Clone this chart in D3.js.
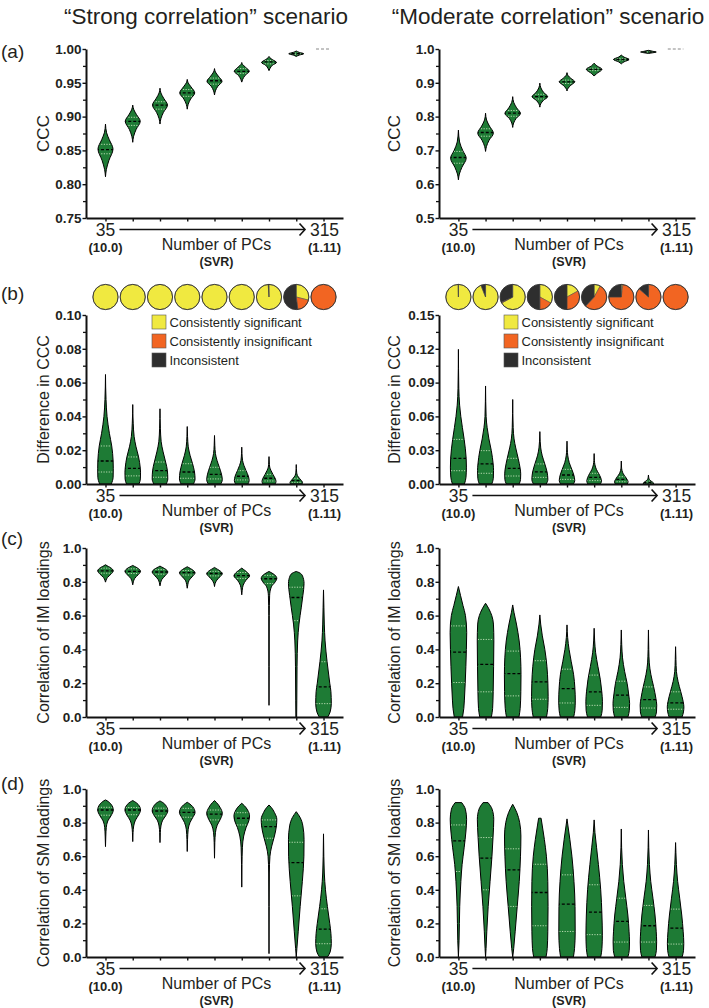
<!DOCTYPE html>
<html><head><meta charset="utf-8">
<script src="https://cdn.jsdelivr.net/npm/d3@7"></script>
<style>
body{margin:0;background:#fff}
svg{display:block}
text{font-family:Arial,"Liberation Sans",Helvetica,sans-serif;fill:#231f20}
</style>
</head><body>
<svg id="chart" width="709" height="1008"></svg>
<script>
// ---------------- DATA ----------------
const categories = ["35","70","105","140","175","210","245","280","315"]; // number of PCs
const xEndLabels = ["35","315"];
const svrLabels = ["(10.0)","(1.11)"];
const xTitle = "Number of PCs";
const xSubTitle = "(SVR)";
const columnTitles = ["\u201CStrong correlation\u201D scenario","\u201CModerate correlation\u201D scenario"];
const panelLetters = ["(a)","(b)","(c)","(d)"];
const yTitles = ["CCC","Difference in CCC","Correlation of IM loadings","Correlation of SM loadings"];
const legendLabels = ["Consistently significant","Consistently insignificant","Inconsistent"];

// y tick values
const yTicksCccStrong = [0.75,0.80,0.85,0.90,0.95,1.00];
const yMinorCccStrong = [0.775,0.825,0.875,0.925,0.975];
const yTicksCccMod = [0.5,0.6,0.7,0.8,0.9,1.0];
const yMinorCccMod = [0.55,0.65,0.75,0.85,0.95];
const yTicksDiffStrong = [0,0.02,0.04,0.06,0.08,0.10];
const yMinorDiffStrong = [0.01,0.03,0.05,0.07,0.09];
const yTicksDiffMod = [0,0.03,0.06,0.09,0.12,0.15];
const yMinorDiffMod = [0.015,0.045,0.075,0.105,0.135];
const yTicksCorr = [0,0.2,0.4,0.6,0.8,1.0];
const yMinorCorr = [0.1,0.3,0.5,0.7,0.9];

// pie proportions (significance consistency)
const sigStrong   = [1,1,1,1,1,1,0.99,0.29,0];
const insigStrong = [0,0,0,0,0,0,0,0.19,1];
const inconStrong = [0,0,0,0,0,0,0.01,0.52,0];
const sigMod   = [0.997,0.94,0.67,0.33,0.17,0.08,0.02,0.005,0];
const insigMod = [0,0,0.01,0.17,0.33,0.54,0.73,0.86,1];
const inconMod = [0.003,0.06,0.32,0.50,0.50,0.38,0.25,0.135,0];

// violin quartiles [q1, median, q3]
const cccStrongQ = [[0.845,0.851,0.859],[0.887,0.893,0.899],[0.911,0.917,0.922],[0.930,0.935,0.940],[0.948,0.953,0.957],[0.964,0.967,0.971],[0.978,0.981,0.983],[0.992,0.993,0.994],[1,1,1]];
const cccModQ = [[0.662,0.679,0.697],[0.742,0.753,0.764],[0.801,0.810,0.818],[0.852,0.859,0.866],[0.898,0.903,0.908],[0.936,0.940,0.943],[0.967,0.969,0.972],[0.990,0.991,0.992],[1,1,1]];
const diffStrongQ = [[0.0071,0.0136,0.0225],[0.0048,0.0093,0.016],[0.004,0.0079,0.013],[0.0034,0.0071,0.012],[0.003,0.0057,0.0099],[0.0024,0.0046,0.0079],[0.0018,0.0034,0.0057],[0.001,0.002,0.0034],null];
const diffModQ = [[0.0118,0.0228,0.0396],[0.0095,0.0178,0.0296],[0.0071,0.0139,0.0228],[0.0059,0.0107,0.0178],[0.0041,0.008,0.013],[0.003,0.0059,0.0095],[0.002,0.0041,0.0065],[0.0008,0.0015,0.0025],null];
const imStrongQ = [[0.851,0.865,0.881],[0.849,0.862,0.877],[0.845,0.858,0.872],[0.840,0.854,0.867],[0.835,0.849,0.862],[0.82,0.837,0.855],[0.79,0.818,0.838],[0.57,0.707,0.768],[0.079,0.178,0.327]];
const imModQ = [[0.204,0.384,0.539],[0.149,0.311,0.459],[0.125,0.257,0.39],[0.105,0.208,0.333],[0.083,0.168,0.283],[0.069,0.149,0.248],[0.057,0.129,0.212],[0.053,0.103,0.178],[0.046,0.083,0.149]];
const smStrongQ = [[0.844,0.875,0.891],[0.847,0.875,0.89],[0.84,0.869,0.886],[0.832,0.861,0.885],[0.816,0.851,0.875],[0.786,0.826,0.859],[0.707,0.776,0.816],[0.364,0.562,0.683],[0.079,0.166,0.287]];
const smModQ = [[0.509,0.691,0.786],[0.40,0.588,0.711],[0.301,0.519,0.644],[0.186,0.384,0.552],[0.152,0.315,0.489],[0.133,0.267,0.43],[0.089,0.212,0.35],[0.089,0.186,0.307],[0.077,0.172,0.285]];

// violin density profiles: [value, relative width], ascending value
const cccStrongShape = [
 [[0.811,0],[0.822,0.12],[0.835,0.45],[0.852,1],[0.866,0.5],[0.876,0.15],[0.889,0]],
 [[0.862,0],[0.871,0.12],[0.881,0.45],[0.893,1],[0.903,0.5],[0.910,0.15],[0.917,0]],
 [[0.889,0],[0.897,0.12],[0.906,0.45],[0.917,1],[0.927,0.5],[0.935,0.12],[0.942,0]],
 [[0.911,0],[0.918,0.12],[0.926,0.45],[0.935,1],[0.944,0.5],[0.950,0.12],[0.955,0]],
 [[0.932,0],[0.938,0.12],[0.945,0.45],[0.952,1],[0.960,0.5],[0.966,0.12],[0.971,0]],
 [[0.951,0],[0.955,0.12],[0.961,0.45],[0.967,1],[0.973,0.5],[0.977,0.12],[0.980,0]],
 [[0.968,0],[0.971,0.12],[0.976,0.45],[0.980,1],[0.984,0.5],[0.987,0.12],[0.989,0]],
 [[0.989,0],[0.991,0.4],[0.993,1],[0.995,0.4],[0.997,0]],
 []
];
const cccModShape = [
 [[0.613,0],[0.630,0.12],[0.650,0.45],[0.677,1],[0.700,0.55],[0.725,0.15],[0.760,0]],
 [[0.697,0],[0.712,0.12],[0.730,0.45],[0.751,1],[0.772,0.5],[0.790,0.13],[0.810,0]],
 [[0.768,0],[0.781,0.12],[0.795,0.45],[0.809,1],[0.826,0.5],[0.842,0.13],[0.859,0]],
 [[0.828,0],[0.838,0.12],[0.848,0.45],[0.859,1],[0.871,0.5],[0.885,0.13],[0.899,0]],
 [[0.876,0],[0.884,0.15],[0.893,0.5],[0.903,1],[0.913,0.5],[0.921,0.15],[0.930,0]],
 [[0.920,0],[0.927,0.3],[0.940,1],[0.950,0.35],[0.958,0]],
 [[0.956,0],[0.962,0.35],[0.969,1],[0.976,0.35],[0.982,0]],
 [[0.987,0],[0.989,0.6],[0.991,1],[0.993,0.6],[0.996,0]],
 []
];
const diffStrongShape = [
 [[0,0.75],[0.004,0.98],[0.009,1],[0.0136,0.98],[0.0225,0.8],[0.03,0.5],[0.04,0.2],[0.05,0.07],[0.0648,0]],
 [[0,0.8],[0.003,0.98],[0.007,1],[0.0093,0.97],[0.016,0.75],[0.022,0.42],[0.028,0.18],[0.036,0.06],[0.047,0]],
 [[0,0.8],[0.003,1],[0.0079,0.95],[0.013,0.72],[0.019,0.4],[0.025,0.15],[0.033,0.05],[0.0445,0]],
 [[0,0.8],[0.003,1],[0.0071,0.93],[0.012,0.68],[0.017,0.36],[0.022,0.13],[0.028,0.04],[0.034,0]],
 [[0,0.8],[0.0025,1],[0.0057,0.9],[0.0099,0.62],[0.014,0.32],[0.018,0.12],[0.023,0.04],[0.0287,0]],
 [[0,0.8],[0.002,0.95],[0.0046,0.85],[0.0079,0.55],[0.011,0.28],[0.014,0.1],[0.018,0.03],[0.0218,0]],
 [[0,0.78],[0.0015,0.9],[0.0034,0.78],[0.0057,0.5],[0.008,0.25],[0.010,0.09],[0.013,0.03],[0.0162,0]],
 [[0,0.75],[0.001,0.8],[0.002,0.65],[0.0034,0.4],[0.005,0.15],[0.007,0.05],[0.0115,0]],
 []
];
const diffModShape = [
 [[0,0.75],[0.006,0.95],[0.015,1],[0.0228,0.97],[0.0396,0.72],[0.05,0.5],[0.06,0.3],[0.07,0.15],[0.085,0.05],[0.1195,0]],
 [[0,0.78],[0.005,0.97],[0.012,1],[0.0178,0.95],[0.0296,0.72],[0.04,0.42],[0.05,0.2],[0.06,0.07],[0.087,0]],
 [[0,0.8],[0.004,0.98],[0.009,1],[0.0139,0.93],[0.0228,0.68],[0.032,0.38],[0.04,0.17],[0.05,0.06],[0.075,0]],
 [[0,0.8],[0.004,1],[0.0107,0.9],[0.0178,0.62],[0.025,0.3],[0.032,0.11],[0.038,0.04],[0.0465,0]],
 [[0,0.8],[0.003,0.97],[0.008,0.85],[0.013,0.6],[0.019,0.28],[0.025,0.1],[0.031,0.03],[0.038,0]],
 [[0,0.78],[0.0025,0.92],[0.0059,0.8],[0.0095,0.55],[0.013,0.28],[0.017,0.1],[0.021,0.03],[0.027,0]],
 [[0,0.75],[0.002,0.85],[0.0041,0.72],[0.0065,0.5],[0.009,0.25],[0.012,0.09],[0.015,0.03],[0.0204,0]],
 [[0,0.65],[0.001,0.62],[0.0025,0.35],[0.004,0.12],[0.006,0.03],[0.008,0]],
 []
];
const imStrongShape = [
 [[0.798,0],[0.81,0.08],[0.825,0.25],[0.845,0.7],[0.865,1],[0.885,0.6],[0.895,0.2],[0.901,0]],
 [[0.782,0],[0.80,0.08],[0.82,0.25],[0.842,0.7],[0.862,1],[0.882,0.6],[0.892,0.2],[0.897,0]],
 [[0.776,0],[0.795,0.08],[0.815,0.25],[0.838,0.7],[0.858,1],[0.878,0.6],[0.888,0.2],[0.893,0]],
 [[0.762,0],[0.785,0.08],[0.81,0.25],[0.833,0.7],[0.853,1],[0.873,0.6],[0.884,0.2],[0.889,0]],
 [[0.772,0],[0.79,0.08],[0.81,0.3],[0.83,0.7],[0.848,1],[0.868,0.6],[0.879,0.2],[0.885,0]],
 [[0.723,0],[0.75,0.06],[0.78,0.18],[0.81,0.55],[0.835,1],[0.86,0.6],[0.874,0.2],[0.881,0]],
 [[0.069,0],[0.3,0.02],[0.6,0.03],[0.72,0.08],[0.77,0.3],[0.80,0.8],[0.82,1],[0.84,0.75],[0.855,0.25],[0.861,0]],
 [[0,0.05],[0.1,0.07],[0.3,0.1],[0.45,0.18],[0.55,0.35],[0.65,0.65],[0.72,0.85],[0.79,1],[0.835,0.8],[0.855,0.35],[0.861,0]],
 [[0,0.55],[0.03,0.85],[0.08,1],[0.15,0.95],[0.2,0.8],[0.33,0.45],[0.45,0.2],[0.55,0.1],[0.65,0.05],[0.752,0]]
];
const imModShape = [
 [[0,0.5],[0.05,0.65],[0.1,0.72],[0.2,0.82],[0.3,0.9],[0.4,0.96],[0.5,1],[0.6,0.85],[0.66,0.55],[0.72,0.25],[0.772,0]],
 [[0,0.7],[0.05,0.85],[0.15,0.92],[0.3,0.97],[0.45,1],[0.55,0.95],[0.6,0.75],[0.64,0.4],[0.673,0]],
 [[0,0.75],[0.05,0.9],[0.15,0.98],[0.25,1],[0.35,0.95],[0.45,0.78],[0.55,0.45],[0.62,0.15],[0.663,0]],
 [[0,0.8],[0.05,0.95],[0.12,1],[0.2,0.97],[0.3,0.85],[0.4,0.6],[0.48,0.3],[0.55,0.1],[0.604,0]],
 [[0,0.8],[0.04,0.95],[0.1,1],[0.17,0.95],[0.25,0.8],[0.33,0.5],[0.4,0.25],[0.47,0.08],[0.545,0]],
 [[0,0.8],[0.04,0.97],[0.09,1],[0.15,0.92],[0.22,0.75],[0.3,0.45],[0.38,0.18],[0.45,0.06],[0.525,0]],
 [[0,0.8],[0.04,0.97],[0.08,1],[0.13,0.9],[0.2,0.7],[0.27,0.4],[0.35,0.15],[0.43,0.05],[0.515,0]],
 [[0,0.8],[0.03,0.97],[0.07,1],[0.11,0.9],[0.18,0.62],[0.25,0.3],[0.32,0.1],[0.4,0.04],[0.515,0]],
 [[0,0.78],[0.03,0.95],[0.06,1],[0.09,0.92],[0.15,0.62],[0.21,0.3],[0.27,0.1],[0.34,0.04],[0.416,0]]
];
const smStrongShape = [
 [[0.657,0],[0.72,0.04],[0.77,0.1],[0.81,0.3],[0.84,0.7],[0.875,1],[0.91,0.7],[0.93,0.2],[0.935,0]],
 [[0.687,0],[0.74,0.04],[0.78,0.12],[0.815,0.35],[0.845,0.75],[0.875,1],[0.908,0.7],[0.926,0.2],[0.931,0]],
 [[0.681,0],[0.74,0.04],[0.78,0.12],[0.815,0.35],[0.84,0.72],[0.87,1],[0.905,0.7],[0.924,0.2],[0.929,0]],
 [[0.628,0],[0.7,0.04],[0.76,0.12],[0.8,0.35],[0.83,0.7],[0.86,1],[0.895,0.7],[0.915,0.2],[0.921,0]],
 [[0.588,0],[0.68,0.04],[0.74,0.12],[0.785,0.35],[0.82,0.75],[0.855,1],[0.89,0.72],[0.92,0.25],[0.931,0]],
 [[0.416,0],[0.55,0.03],[0.65,0.08],[0.72,0.25],[0.77,0.55],[0.81,0.9],[0.84,1],[0.875,0.75],[0.9,0.35],[0.915,0]],
 [[0.02,0],[0.3,0.02],[0.5,0.04],[0.6,0.12],[0.66,0.35],[0.72,0.7],[0.78,0.95],[0.82,1],[0.86,0.7],[0.89,0.3],[0.905,0]],
 [[0,0],[0.05,0.08],[0.15,0.25],[0.3,0.5],[0.45,0.78],[0.6,0.98],[0.7,1],[0.78,0.85],[0.83,0.5],[0.865,0]],
 [[0,0.5],[0.03,0.85],[0.08,1],[0.14,0.95],[0.2,0.8],[0.3,0.5],[0.4,0.25],[0.5,0.1],[0.6,0.04],[0.733,0]]
];
const smModShape = [
 [[0,0],[0.1,0.08],[0.3,0.16],[0.45,0.3],[0.55,0.45],[0.65,0.7],[0.75,0.92],[0.82,1],[0.88,0.85],[0.919,0.4]],
 [[0,0],[0.05,0.06],[0.15,0.15],[0.3,0.32],[0.45,0.55],[0.6,0.78],[0.72,0.92],[0.82,1],[0.88,0.8],[0.919,0.3]],
 [[0,0],[0.05,0.12],[0.15,0.3],[0.3,0.55],[0.45,0.8],[0.6,0.95],[0.72,1],[0.8,0.85],[0.86,0.5],[0.909,0]],
 [[0,0.75],[0.05,0.9],[0.15,0.97],[0.3,1],[0.45,0.97],[0.6,0.8],[0.7,0.55],[0.78,0.3],[0.826,0.15]],
 [[0,0.78],[0.05,0.92],[0.15,1],[0.3,0.98],[0.45,0.85],[0.6,0.6],[0.7,0.35],[0.78,0.12],[0.822,0]],
 [[0,0.8],[0.05,0.95],[0.13,1],[0.25,0.95],[0.4,0.8],[0.55,0.52],[0.65,0.3],[0.74,0.1],[0.816,0]],
 [[0,0.8],[0.04,0.97],[0.09,1],[0.15,0.95],[0.25,0.8],[0.35,0.55],[0.45,0.3],[0.55,0.13],[0.65,0.04],[0.762,0]],
 [[0,0.8],[0.04,0.97],[0.09,1],[0.15,0.95],[0.25,0.8],[0.35,0.55],[0.45,0.28],[0.55,0.12],[0.65,0.04],[0.756,0]],
 [[0,0.8],[0.04,0.97],[0.08,1],[0.15,0.93],[0.25,0.75],[0.35,0.5],[0.45,0.25],[0.55,0.1],[0.62,0.04],[0.681,0]]
];

// ---------------- LAYOUT / STYLE ----------------
const COLORS = {violin:"#1e7b35", sig:"#f0e940", insig:"#f26522", incon:"#2e2e2e", axis:"#111"};
const cols = [
  {axisX:86, xEnd:343, titleX:206, yTitleX:49},
  {axisX:439, xEnd:695, titleX:548, yTitleX:400}
];
const rows = [{top:49,bottom:218},{top:315,bottom:484},{top:548,bottom:717},{top:789,bottom:957}];
const letterY = [58,300,545,790];

const panels = [
 {r:0,c:0,dom:[0.75,1],maj:yTicksCccStrong,min:yMinorCccStrong,fmt:".2f",q:cccStrongQ,s:cccStrongShape,hw:7.5},
 {r:0,c:1,dom:[0.5,1],maj:yTicksCccMod,min:yMinorCccMod,fmt:".1f",q:cccModQ,s:cccModShape,hw:7.8},
 {r:1,c:0,dom:[0,0.10],maj:yTicksDiffStrong,min:yMinorDiffStrong,fmt:".2f",q:diffStrongQ,s:diffStrongShape,hw:7.8},
 {r:1,c:1,dom:[0,0.15],maj:yTicksDiffMod,min:yMinorDiffMod,fmt:".2f",q:diffModQ,s:diffModShape,hw:8},
 {r:2,c:0,dom:[0,1],maj:yTicksCorr,min:yMinorCorr,fmt:".1f",q:imStrongQ,s:imStrongShape,hw:7.8},
 {r:2,c:1,dom:[0,1],maj:yTicksCorr,min:yMinorCorr,fmt:".1f",q:imModQ,s:imModShape,hw:8.3},
 {r:3,c:0,dom:[0,1],maj:yTicksCorr,min:yMinorCorr,fmt:".1f",q:smStrongQ,s:smStrongShape,hw:7.8},
 {r:3,c:1,dom:[0,1],maj:yTicksCorr,min:yMinorCorr,fmt:".1f",q:smModQ,s:smModShape,hw:8.2}
];

const svg = d3.select("#chart");

// column titles
columnTitles.forEach((t,i)=>{
  svg.append("text").attr("x",cols[i].titleX).attr("y",23.5)
    .attr("text-anchor","middle").attr("font-size",22.5).text(t);
});
// panel letters
panelLetters.forEach((t,i)=>{
  svg.append("text").attr("x",1).attr("y",letterY[i]).attr("font-size",19).text(t);
});

let clipId = 0;
panels.forEach(p=>{
  const col = cols[p.c], row = rows[p.r];
  const g = svg.append("g");
  const y = d3.scaleLinear().domain(p.dom).range([row.bottom,row.top]);
  const x = d3.scalePoint().domain(categories).range([col.axisX,col.xEnd]).padding(0.715);

  // violins
  const area = d3.area()
    .y(d=>y(d[0]))
    .curve(d3.curveMonotoneY);
  categories.forEach((cat,i)=>{
    const cx = x(cat), shape = p.s[i], q = p.q[i];
    if(!q) return;
    if(shape.length===0){
      g.append("line").attr("x1",cx-p.hw).attr("x2",cx+p.hw)
        .attr("y1",y(q[1])).attr("y2",y(q[1]))
        .attr("stroke","#888").attr("stroke-width",1).attr("stroke-dasharray","3,2");
      return;
    }
    area.x0(d=>cx-d[1]*p.hw).x1(d=>cx+d[1]*p.hw);
    const dPath = area(shape);
    const id = "vc"+(clipId++);
    svg.append("clipPath").attr("id",id).append("path").attr("d",dPath);
    g.append("path").attr("d",dPath).attr("fill",COLORS.violin);
    const lines = g.append("g").attr("clip-path",`url(#${id})`);
    [q[0],q[2]].forEach(v=>{
      lines.append("line").attr("x1",cx-p.hw-2).attr("x2",cx+p.hw+2)
        .attr("y1",y(v)).attr("y2",y(v))
        .attr("stroke","#c9e6c0").attr("stroke-width",0.9).attr("stroke-dasharray","1.2,1.4");
    });
    lines.append("line").attr("x1",cx-p.hw-2).attr("x2",cx+p.hw+2)
      .attr("y1",y(q[1])).attr("y2",y(q[1]))
      .attr("stroke","#000").attr("stroke-width",1.3).attr("stroke-dasharray","3,2");
    g.append("path").attr("d",dPath).attr("fill","none").attr("stroke","#000").attr("stroke-width",1);
  });

  // y axis
  const yAx = g.append("g").attr("transform",`translate(${col.axisX},0)`)
    .call(d3.axisLeft(y).tickValues(p.maj).tickFormat(d3.format(p.fmt)).tickSize(3.5).tickSizeOuter(0).tickPadding(1));
  yAx.select(".domain").attr("stroke",COLORS.axis).attr("stroke-width",2);
  yAx.selectAll(".tick line").attr("stroke",COLORS.axis).attr("stroke-width",1.4);
  yAx.selectAll(".tick text").attr("font-size",13.5).attr("font-weight","bold")
    .attr("font-family","Arial, 'Liberation Sans', sans-serif").attr("fill","#231f20");
  const yMin = g.append("g").attr("transform",`translate(${col.axisX},0)`)
    .call(d3.axisLeft(y).tickValues(p.min).tickFormat("").tickSize(3).tickSizeOuter(0));
  yMin.select(".domain").remove();
  yMin.selectAll(".tick line").attr("stroke",COLORS.axis).attr("stroke-width",1.3);

  // x axis
  const xAx = g.append("g").attr("transform",`translate(0,${row.bottom})`)
    .call(d3.axisBottom(x).tickFormat("").tickSize(3.5).tickSizeOuter(0));
  xAx.select(".domain").attr("stroke",COLORS.axis).attr("stroke-width",2);
  xAx.selectAll(".tick line").attr("stroke",COLORS.axis).attr("stroke-width",1.4);

  // x labels
  const first = x(categories[0]), last = x(categories[categories.length-1]);
  const b = row.bottom;
  g.append("text").attr("x",first).attr("y",b+18).attr("text-anchor","middle").attr("font-size",17.5).text(xEndLabels[0]);
  g.append("text").attr("x",last+1).attr("y",b+18).attr("text-anchor","middle").attr("font-size",17.5).text(xEndLabels[1]);
  g.append("text").attr("x",first).attr("y",b+34).attr("text-anchor","middle").attr("font-size",13).attr("font-weight","bold").text(svrLabels[0]);
  g.append("text").attr("x",last+1).attr("y",b+34).attr("text-anchor","middle").attr("font-size",13).attr("font-weight","bold").text(svrLabels[1]);
  const mid = (first+last)/2 + 2;
  g.append("text").attr("x",mid).attr("y",b+32).attr("text-anchor","middle").attr("font-size",16).text(xTitle);
  g.append("text").attr("x",mid).attr("y",b+48).attr("text-anchor","middle").attr("font-size",12.5).attr("font-weight","bold").text(xSubTitle);
  // arrow
  const ay = b+11.5, ax0 = first+14, ax1 = last-19;
  g.append("line").attr("x1",ax0).attr("x2",ax1).attr("y1",ay).attr("y2",ay).attr("stroke","#111").attr("stroke-width",1.5);
  g.append("path").attr("d",`M${ax1-5},${ay-6}L${ax1+0.5},${ay}L${ax1-5},${ay+6}`)
    .attr("fill","none").attr("stroke","#111").attr("stroke-width",1.6);

  // y title
  g.append("text").attr("transform",`translate(${col.yTitleX},${(row.top+row.bottom)/2}) rotate(-90)`)
    .attr("text-anchor","middle").attr("font-size",p.r===0?17:16).text(yTitles[p.r]);

  // pies + legend for row b
  if(p.r===1){
    const sig = p.c===0?sigStrong:sigMod, ins = p.c===0?insigStrong:insigMod, inc = p.c===0?inconStrong:inconMod;
    const pie = d3.pie().sort(null).value(d=>d.v);
    const arc = d3.arc().innerRadius(0).outerRadius(12.6);
    categories.forEach((cat,i)=>{
      const data = [{v:sig[i],c:COLORS.sig},{v:ins[i],c:COLORS.insig},{v:inc[i],c:COLORS.incon}];
      const pg = g.append("g").attr("transform",`translate(${x(cat)},297)`);
      pg.selectAll("path").data(pie(data).filter(d=>d.data.v>0)).join("path")
        .attr("d",arc).attr("fill",d=>d.data.c).attr("stroke","#444").attr("stroke-width",0.5);
      pg.append("circle").attr("r",12.6).attr("fill","none").attr("stroke","#333").attr("stroke-width",0.9);
    });
    const lx = p.c===0?152:504;
    const lcol = [COLORS.sig,COLORS.insig,COLORS.incon];
    legendLabels.forEach((t,k)=>{
      const ly = 315 + k*19;
      g.append("rect").attr("x",lx).attr("y",ly).attr("width",14).attr("height",14)
        .attr("fill",lcol[k]).attr("stroke","#555").attr("stroke-width",0.6);
      g.append("text").attr("x",lx+17.5).attr("y",ly+12).attr("font-size",13).text(t);
    });
  }
});
</script>
</body></html>
